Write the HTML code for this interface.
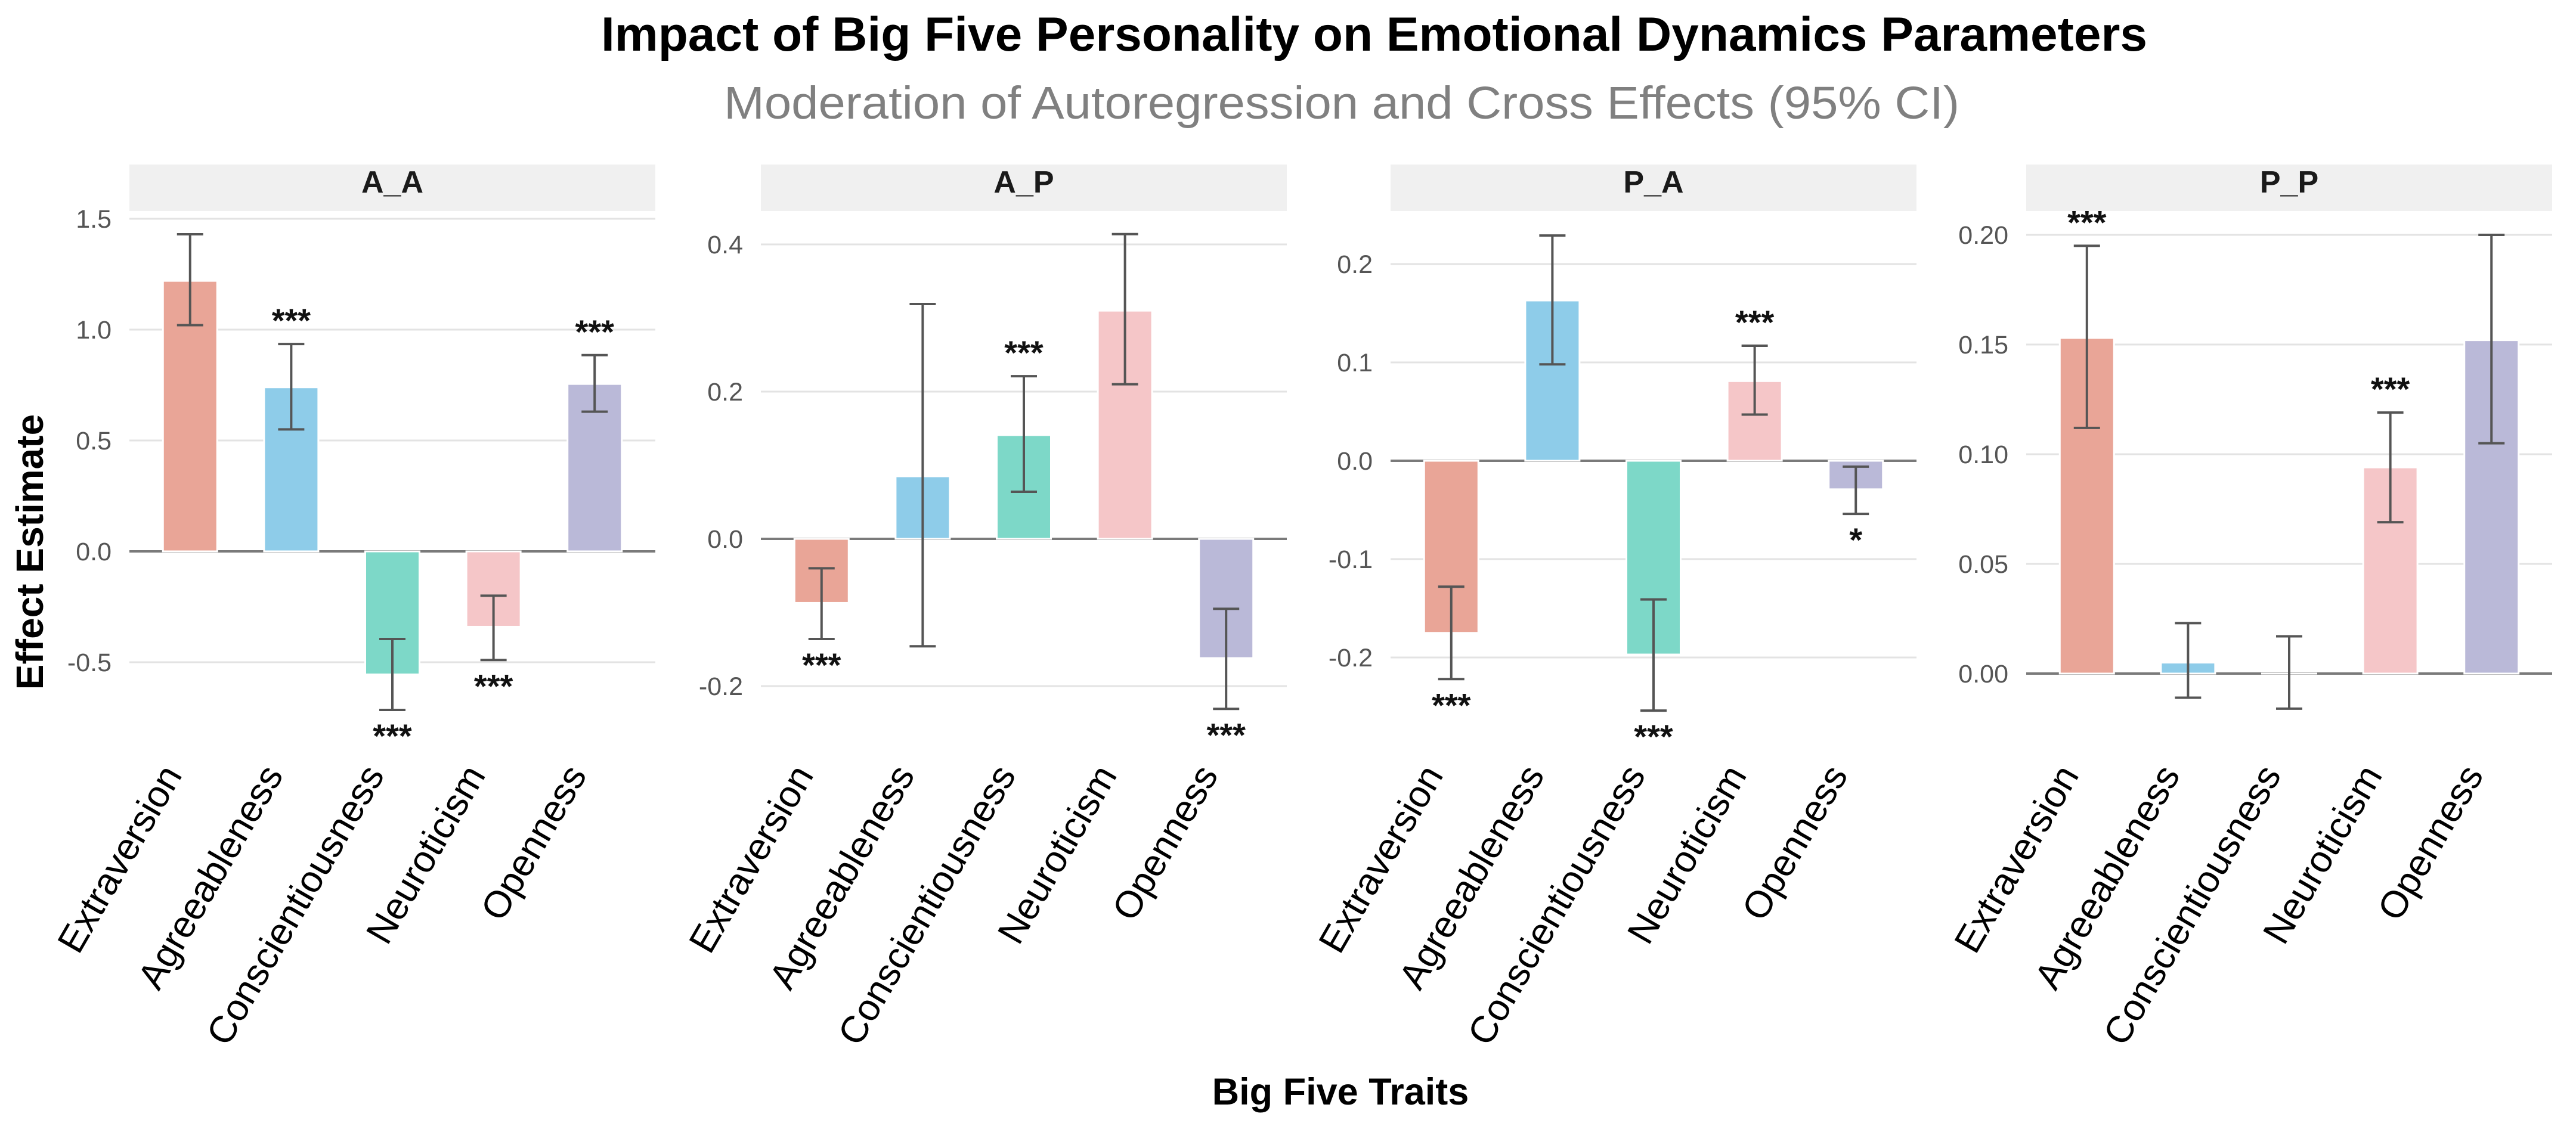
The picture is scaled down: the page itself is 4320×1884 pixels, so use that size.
<!DOCTYPE html>
<html><head><meta charset="utf-8"><style>
html,body{margin:0;padding:0;background:#fff;}
svg{display:block;font-family:"Liberation Sans",Arial,sans-serif;}
</style></head><body>
<svg id="chart" width="4320" height="1884" viewBox="0 0 4320 1884" xmlns="http://www.w3.org/2000/svg">
<rect width="4320" height="1884" fill="#fff"/>
<text x="1008" y="85" text-anchor="start" font-size="81" font-weight="bold" fill="#000" textLength="2593" lengthAdjust="spacingAndGlyphs">Impact of Big Five Personality on Emotional Dynamics Parameters</text>
<text x="1214" y="199" text-anchor="start" font-size="77" fill="#808080" textLength="2072" lengthAdjust="spacingAndGlyphs">Moderation of Autoregression and Cross Effects (95% CI)</text>
<text transform="translate(72,926) rotate(-90)" text-anchor="middle" font-size="64" font-weight="bold" fill="#000">Effect Estimate</text>
<text x="2248" y="1853" text-anchor="middle" font-size="63" font-weight="bold" fill="#000">Big Five Traits</text>
<g id="panels"></g>
</svg>
<script>
const categories = ["Extraversion","Agreeableness","Conscientiousness","Neuroticism","Openness"];
const colors = ["#E9A597","#8ECCE9","#7DD8C8","#F5C6C8","#BAB9D8"];
const panelNames = ["A_A","A_P","P_A","P_P"];
const estAA = [1.22, 0.74, -0.555, -0.34, 0.755];
const lowAA = [1.02, 0.55, -0.715, -0.49, 0.63];
const highAA = [1.43, 0.935, -0.395, -0.20, 0.885];
const sigAA = ["", "***", "***", "***", "***"];
const estAP = [-0.087, 0.085, 0.141, 0.31, -0.162];
const lowAP = [-0.136, -0.146, 0.064, 0.21, -0.231];
const highAP = [-0.040, 0.319, 0.221, 0.414, -0.095];
const sigAP = ["***", "", "***", "", "***"];
const estPA = [-0.175, 0.163, -0.197, 0.081, -0.029];
const lowPA = [-0.222, 0.098, -0.254, 0.047, -0.054];
const highPA = [-0.128, 0.229, -0.141, 0.117, -0.006];
const sigPA = ["***", "", "***", "***", "*"];
const estPP = [0.153, 0.005, 0.0, 0.094, 0.152];
const lowPP = [0.112, -0.011, -0.016, 0.069, 0.105];
const highPP = [0.195, 0.023, 0.017, 0.119, 0.200];
const sigPP = ["***", "", "", "***", ""];
const ticksAA = [-0.5, 0, 0.5, 1.0, 1.5];
const ticksAP = [-0.2, 0, 0.2, 0.4];
const ticksPA = [-0.2, -0.1, 0, 0.1, 0.2];
const ticksPP = [0, 0.05, 0.10, 0.15, 0.20];
const tickLabelsAA = ["-0.5","0.0","0.5","1.0","1.5"];
const tickLabelsAP = ["-0.2","0.0","0.2","0.4"];
const tickLabelsPA = ["-0.2","-0.1","0.0","0.1","0.2"];
const tickLabelsPP = ["0.00","0.05","0.10","0.15","0.20"];

const NS = "http://www.w3.org/2000/svg";
const root = document.getElementById("panels");
function mk(tag, attrs, parent) {
  const e = document.createElementNS(NS, tag);
  for (const k in attrs) e.setAttribute(k, attrs[k]);
  (parent || root).appendChild(e);
  return e;
}
const layout = [
  {left: 217, zeroY: 925, pxPerUnit: 372},
  {left: 1276, zeroY: 904, pxPerUnit: 1235},
  {left: 2332, zeroY: 773, pxPerUnit: 1650},
  {left: 3398, zeroY: 1130, pxPerUnit: 3680}
];
const panelData = [
  {est: estAA, low: lowAA, high: highAA, sig: sigAA, ticks: ticksAA, labels: tickLabelsAA},
  {est: estAP, low: lowAP, high: highAP, sig: sigAP, ticks: ticksAP, labels: tickLabelsAP},
  {est: estPA, low: lowPA, high: highPA, sig: sigPA, ticks: ticksPA, labels: tickLabelsPA},
  {est: estPP, low: lowPP, high: highPP, sig: sigPP, ticks: ticksPP, labels: tickLabelsPP}
];
const W = 882, band = W / 5.2, barW = 91, capW = 44;

panelNames.forEach((name, p) => {
  const L = layout[p], D = panelData[p];
  const y = v => L.zeroY - v * L.pxPerUnit;
  const x = i => L.left + band * (0.6 + i);
  const g = mk("g", {});
  
  
  const strip = mk("rect", {x: L.left, y: 276, width: W, height: 78, fill: "#f0f0f0"}, g);
  
  
  const st = mk("text", {x: L.left + W/2, y: 323, "text-anchor": "middle", "font-size": 52, "font-weight": "bold", fill: "#1a1a1a"}, g);
  st.textContent = name;
  
  
  D.ticks.forEach((t, k) => {
    const gl = mk("line", {x1: L.left, x2: L.left + W, y1: y(t), y2: y(t), stroke: t === 0 ? "#7a7a7a" : "#e3e3e3", "stroke-width": t === 0 ? 4 : 3}, g);
    
    
    const tl = mk("text", {x: L.left - 30, y: y(t) + 15, "text-anchor": "end", "font-size": 43, fill: "#555"}, g);
    tl.textContent = D.labels[k];
    
    
  });
  D.est.forEach((v, i) => {
    const top = Math.min(y(v), y(0)), h = Math.abs(y(v) - y(0));
    const b = mk("rect", {x: x(i) - barW/2, y: top, width: barW, height: Math.max(h, 0.01), fill: colors[i], stroke: "#fff", "stroke-width": 3}, g);
    
    
  });
  D.est.forEach((v, i) => {
    const eg = mk("g", {stroke: "#555", "stroke-width": 4, fill: "none"}, g);
    
    
    mk("line", {x1: x(i), x2: x(i), y1: y(D.low[i]), y2: y(D.high[i])}, eg);
    mk("line", {x1: x(i) - capW/2, x2: x(i) + capW/2, y1: y(D.low[i]), y2: y(D.low[i])}, eg);
    mk("line", {x1: x(i) - capW/2, x2: x(i) + capW/2, y1: y(D.high[i]), y2: y(D.high[i])}, eg);
    if (D.sig[i]) {
      const above = v >= 0;
      const sy = above ? y(D.high[i]) - 20 : y(D.low[i]) + 63;
      const s = mk("text", {x: x(i), y: sy, "text-anchor": "middle", "font-size": 56, "font-weight": "bold", fill: "#111"}, g);
      s.textContent = D.sig[i];
      
      
    }
  });
  categories.forEach((c, i) => {
    const bx = x(i) - 12, by = 1300;
    const t = mk("text", {x: bx, y: by, "text-anchor": "end", "font-size": 63, fill: "#000", transform: "rotate(-60 " + bx + " " + by + ")"}, g);
    t.textContent = c;
    
    
  });
});
</script>
</body></html>
